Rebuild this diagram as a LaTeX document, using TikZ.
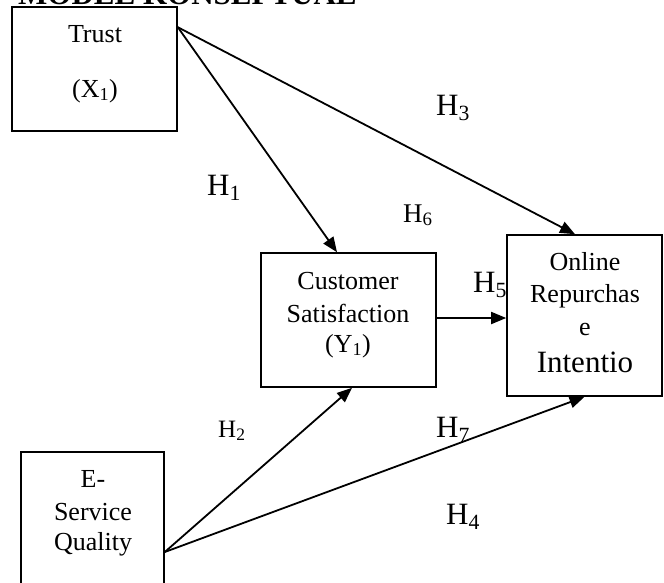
\documentclass[tikz,border=0pt]{standalone}
\usepackage{fontspec}
\setmainfont{Liberation Serif}
\usetikzlibrary{arrows.meta,calc}
\begin{document}
\begin{tikzpicture}[x=1pt,y=-1pt,
  box/.style={draw,line width=1.6pt,rectangle,inner sep=0pt},
  arr/.style={line width=1.8pt,-{Triangle[length=15pt,width=12pt]}},
  txt/.style={anchor=base,inner sep=0pt,font=\fontsize{26}{30}\selectfont},
  big/.style={anchor=base west,inner sep=0pt,font=\fontsize{31}{36}\selectfont},
]
\useasboundingbox (0,0) rectangle (664,582);
\clip (0,0) rectangle (664,582);
% title (cut off at top)
\node[anchor=base west,inner sep=0pt,font=\fontsize{31}{36}\selectfont\bfseries] (title) at (18,4) {MODEL KONSEPTUAL};
% boxes
\node[box,minimum width=165pt,minimum height=124pt] (trust) at (94.5,69) {};
\node[box,minimum width=175pt,minimum height=134pt] (cs) at (348.5,320) {};
\node[box,minimum width=155pt,minimum height=161pt] (ori) at (584.5,315.5) {};
\node[box,minimum width=143pt,minimum height=148pt] (esq) at (92.5,526) {};
% box texts
\node[txt] (t1) at (95,42) {Trust};
\node[txt] (t2) at (95,97) {(X\textsubscript{1})};
\node[txt] (c1) at (348,289) {Customer};
\node[txt] (c2) at (348,322) {Satisfaction};
\node[txt] (c3) at (348,352) {(Y\textsubscript{1})};
\node[txt] (o1) at (585,270) {Online};
\node[txt] (o2) at (585,302) {Repurchas};
\node[txt] (o3) at (585,335) {e};
\node[txt,font=\fontsize{31}{36}\selectfont] (o4) at (585,372) {Intentio};
\node[txt] (e1) at (93,487) {E-};
\node[txt] (e2) at (93,520) {Service};
\node[txt] (e3) at (93,550) {Quality};
% connectors
\draw[arr] ([yshift=-21pt]trust.north east) -- ([xshift=-9.5pt]ori.north);
\draw[arr] ([yshift=-21pt]trust.north east) -- ([xshift=-11.5pt]cs.north);
\draw[arr] ([yshift=2pt]cs.east) -- ([yshift=2pt]cs.east -| ori.west);
\draw[arr] ([yshift=-26pt]esq.east) -- ([xshift=3.5pt]cs.south);
\draw[arr] ([yshift=-26pt]esq.east) -- (ori.south);
% hypothesis labels
\node[big] (h3) at (436,115) {H\textsubscript{3}};
\node[big] (h1) at (207,195) {H\textsubscript{1}};
\node[big,font=\fontsize{27}{32}\selectfont] (h6) at (403,222) {H\textsubscript{6}};
\node[big] (h5) at (473,292) {H\textsubscript{5}};
\node[big,font=\fontsize{25}{30}\selectfont] (h2) at (218,437) {H\textsubscript{2}};
\node[big] (h7) at (436,437) {H\textsubscript{7}};
\node[big] (h4) at (446,524) {H\textsubscript{4}};
\end{tikzpicture}
\end{document}
